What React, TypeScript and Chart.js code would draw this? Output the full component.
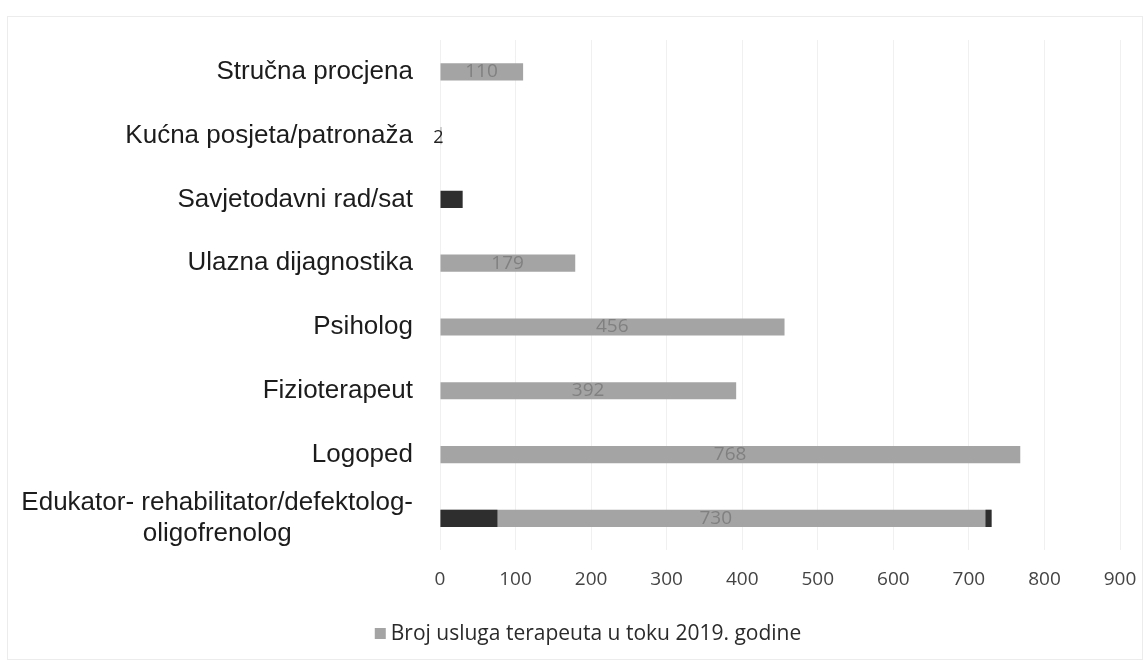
import React, { useEffect, useRef } from "react";
import { Chart, registerables } from "chart.js";

Chart.register(...registerables);

const categories: string[][] = [
  ["Stručna procjena"],
  ["Kućna posjeta/patronaža"],
  ["Savjetodavni rad/sat"],
  ["Ulazna dijagnostika"],
  ["Psiholog"],
  ["Fizioterapeut"],
  ["Logoped"],
  ["Edukator- rehabilitator/defektolog-", "oligofrenolog"],
];
const usluge = [110, 2, 0, 179, 456, 392, 768, 730];
const tamniDio = [0, 0, 30, 0, 0, 0, 0, 76];
const tamniKraj: (number[] | null)[] = [null, null, null, null, null, null, null, [722, 730]];
const xTicks = [0, 100, 200, 300, 400, 500, 600, 700, 800, 900];
const seriesLabel = "Broj usluga terapeuta u toku 2019. godine";

const FONT_LABEL = "'Liberation Sans', Arial, sans-serif";
const FONT_NUM = "'Open Sans', sans-serif";
const BAR_GRAY = "#a4a4a4";

const framePlugin = {
  id: "frame",
  beforeDraw(chart: any) {
    const ctx = chart.ctx;
    ctx.save();
    ctx.fillStyle = "#fff";
    ctx.fillRect(0, 0, chart.width, chart.height);
    ctx.strokeStyle = "#ececec";
    ctx.lineWidth = 1;
    ctx.strokeRect(7.5, 16.5, 1135, 643);
    ctx.restore();
  },
};

const yLabelPlugin = {
  id: "yLabels",
  afterDraw(chart: any) {
    const ctx = chart.ctx;
    const ys = chart.scales.y;
    const right = chart.chartArea.left - 27;
    const lineH = 31;
    ctx.save();
    ctx.font = `26px ${FONT_LABEL}`;
    ctx.fillStyle = "#1c1c1c";
    ctx.textBaseline = "middle";
    ctx.textAlign = "center";
    categories.forEach((lines, i) => {
      const cy = ys.getPixelForValue(i);
      const w = Math.max(...lines.map((l) => ctx.measureText(l).width));
      const cx = right - w / 2;
      const y0 = cy - ((lines.length - 1) * lineH) / 2;
      lines.forEach((l, j) => ctx.fillText(l, cx, y0 + j * lineH));
    });
    ctx.restore();
  },
};

const legendPlugin = {
  id: "customLegend",
  afterDraw(chart: any) {
    const ctx = chart.ctx;
    const y = 634;
    ctx.save();
    ctx.font = `21px ${FONT_NUM}`;
    const tw = ctx.measureText(seriesLabel).width;
    const total = 11 + 5 + tw;
    const x0 = 588 - total / 2;
    ctx.fillStyle = BAR_GRAY;
    ctx.fillRect(x0, y - 6, 11, 11);
    ctx.fillStyle = "#2a2a2a";
    ctx.textBaseline = "middle";
    ctx.textAlign = "left";
    ctx.fillText(seriesLabel, x0 + 16, y);
    ctx.restore();
  },
};

const valuePlugin = {
  id: "valueLabels",
  afterDatasetsDraw(chart: any) {
    const ctx = chart.ctx;
    const meta = chart.getDatasetMeta(0);
    const xs = chart.scales.x;
    const x0 = xs.getPixelForValue(0);
    ctx.save();
    ctx.textBaseline = "middle";
    meta.data.forEach((bar: any, i: number) => {
      const v = usluge[i];
      if (!v) return;
      const w = bar.x - x0;
      if (w < 30) {
        ctx.font = `18px ${FONT_NUM}`;
        ctx.fillStyle = "#222";
        ctx.textAlign = "center";
        ctx.fillText(String(v), bar.x - 3, bar.y + 2);
      } else {
        ctx.font = `19px ${FONT_NUM}`;
        ctx.fillStyle = "#808080";
        ctx.textAlign = "center";
        ctx.fillText(String(v), (bar.x + x0) / 2, bar.y);
      }
    });
    ctx.restore();
  },
};

export default function App() {
  const ref = useRef<HTMLCanvasElement | null>(null);
  useEffect(() => {
    if (!ref.current) return;
    const common = { barPercentage: 0.9, categoryPercentage: 0.3, grouped: false };
    const chart = new Chart(ref.current, {
      type: "bar",
      data: {
        labels: categories.map((l) => l.join(" ")),
        datasets: [
          { label: seriesLabel, data: usluge, backgroundColor: BAR_GRAY, order: 3, ...common },
          { label: "tamno", data: tamniDio, backgroundColor: "#2e2e2e", order: 2, ...common },
          { label: "kraj", data: tamniKraj as any, backgroundColor: "#2e2e2e", order: 1, ...common },
        ],
      },
      options: {
        indexAxis: "y",
        animation: false,
        responsive: false,
        layout: { padding: { top: 40, right: 25, left: 0, bottom: 53 } },
        scales: {
          x: {
            min: 0,
            max: 900,
            afterBuildTicks: (s: any) => {
              s.ticks = xTicks.map((v) => ({ value: v }));
            },
            afterFit: (s: any) => {
              s.paddingRight = 0;
              s.paddingLeft = 0;
            },
            grid: { color: "#f0f0f0", drawTicks: false },
            border: { display: false },
            ticks: {
              color: "#444",
              font: { family: FONT_NUM, size: 19 },
              padding: 18,
            },
          },
          y: {
            grid: { display: false },
            border: { display: false },
            afterFit: (s: any) => {
              s.width = 440;
            },
            ticks: { display: false },
          },
        },
        plugins: {
          tooltip: { enabled: false },
          legend: { display: false },
        },
      },
      plugins: [framePlugin, yLabelPlugin, valuePlugin, legendPlugin],
    });
    return () => chart.destroy();
  }, []);
  return (
    <div style={{ position: "fixed", left: 0, top: 0, width: 1145, height: 662, background: "#fff" }}>
      <canvas ref={ref} width={1145} height={662} />
    </div>
  );
}
